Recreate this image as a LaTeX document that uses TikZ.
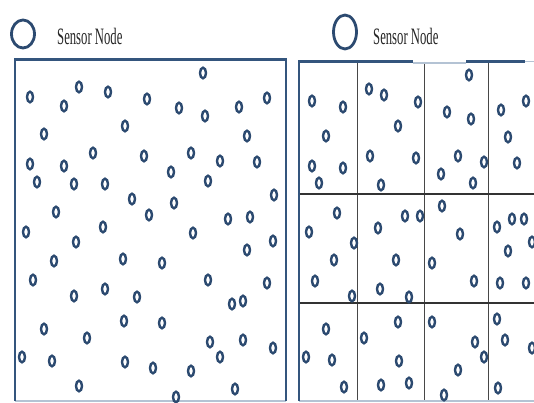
\documentclass[tikz,border=0pt]{standalone}
\usepackage{fontspec}
\setmainfont{Liberation Serif}
\definecolor{sensorblue}{HTML}{2C4A70}
\definecolor{frameblue}{HTML}{34557D}
\definecolor{framelight}{HTML}{B4C3D4}
\definecolor{gridgray}{HTML}{474747}
\tikzset{
    sensor/.style={draw=sensorblue, line width=2.4pt},
    legendring/.style={draw=sensorblue, line width=2.8pt},
    frametop/.style={draw=frameblue, line width=3pt},
    frameside/.style={draw=frameblue, line width=2.2pt},
    framethin/.style={draw=framelight, line width=1.2pt},
    gridline/.style={draw=gridgray, line width=0.9pt},
    gridmain/.style={draw=black!80, line width=1.7pt},
    legendtext/.style={font=\fontsize{23.5}{25}\selectfont, text=black!85, inner sep=0pt, anchor=base west},
}

\begin{document}
\begin{tikzpicture}[x=1pt, y=-1pt]
\useasboundingbox (0,0) rectangle (534,403);

        % legends
        \draw[legendring] (23,34) ellipse [x radius=11.5pt, y radius=14pt];
        \node[legendtext] (legL) at (57,44.5) {\scalebox{0.54}[1]{Sensor Node}};
        \draw[legendring] (345,32) ellipse [x radius=11.5pt, y radius=17pt];
        \node[legendtext] (legR) at (373,45) {\scalebox{0.54}[1]{Sensor Node}};


        % left field, no grid
        \draw[framethin] (15,401) -- (286,401);
        \draw[frameside] (15,60) -- (15,401);
        \draw[frameside] (286,60) -- (286,401);
        \draw[frametop] (14,60) -- (287,60);


        % right field, split into cells
        \draw[framethin] (299,401) -- (534,401);
        \foreach \gx in {357,424,488} {
            \draw[gridline] (\gx,62) -- (\gx,400);
        }
        \foreach \gy in {194,303} {
            \draw[gridmain] (299,\gy) -- (534,\gy);
        }
        \draw[frameside] (299,61) -- (299,401);
        \draw[frametop] (298,61.5) -- (413,61.5);
        \draw[framethin] (413,63) -- (466,63);
        \draw[frametop] (466,61.5) -- (525,61.5);
        \draw[framethin] (525,61.5) -- (534,61.5);


        \foreach \px/\py in {30/97, 79/87, 64/106, 108/92, 147/99, 125/126, 203/73, 179/108, 205/116, 239/107, 267/98, 44/134, 247/136,
            30/164, 93/153, 64/166, 144/156, 191/153, 220/161, 257/162, 37/182, 74/184, 105/184, 171/172, 208/181, 132/199, 174/203, 274/195,
            56/212, 149/215, 228/219, 250/217, 26/232, 103/227, 193/233, 273/241, 76/242, 247/250, 54/261, 123/259, 162/263,
            33/280, 74/296, 105/289, 137/297, 208/280, 267/283, 232/304, 243/301, 44/329, 87/338, 124/321, 162/323, 210/342, 243/340,
            273/348, 220/357, 22/357, 52/361, 125/362, 153/368, 191/371, 79/386, 176/397, 235/389} {
            \draw[sensor] (\px,\py) ellipse [x radius=3pt, y radius=5.3pt];
        }


        \foreach \px/\py in {469/75, 369/89, 384/95, 312/101, 343/107, 418/102, 447/112, 471/119, 501/110, 526/101, 398/126, 326/136, 508/137,
            370/156, 416/158, 458/156, 484/162, 517/163, 312/166, 343/168, 441/174, 473/183, 319/183, 381/185,
            442/206, 337/213, 405/216, 420/216, 512/219, 524/219, 497/227, 378/228, 309/232, 532/242, 354/243, 460/234, 508/251, 334/260, 396/260, 432/263,
            315/281, 474/281, 500/283, 526/283, 380/289, 352/296, 409/297,
            398/322, 432/322, 497/319, 326/329, 364/338, 505/340, 475/342, 532/348, 306/357, 332/360, 399/361, 484/357, 458/370,
            409/383, 381/385, 344/387, 498/388, 444/395} {
            \draw[sensor] (\px,\py) ellipse [x radius=3pt, y radius=5.3pt];
        }
\end{tikzpicture}
\end{document}
